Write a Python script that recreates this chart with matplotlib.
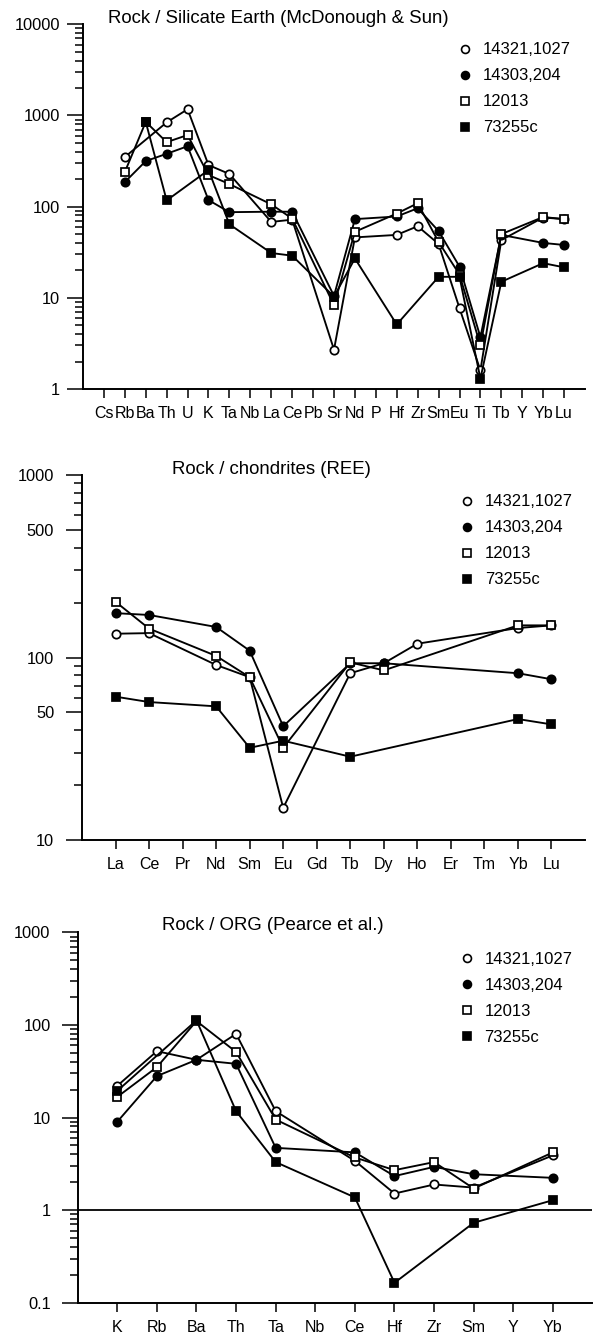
import matplotlib
matplotlib.use("Agg")
import matplotlib.pyplot as plt
from matplotlib.lines import Line2D
from matplotlib.ticker import FixedLocator, NullFormatter

plt.rcParams['font.family'] = ['Liberation Sans', 'DejaVu Sans']

W, H = 593, 1334

samples = ['14321,1027', '14303,204', '12013', '73255c']
# (marker, face colour, marker size) per sample
styles = [('o', 'white', 6.0), ('o', 'black', 6.0), ('s', 'white', 5.4), ('s', 'black', 5.4)]

# Panel 1: rock / silicate earth (None = not analysed)
silicate_elements = ['Cs', 'Rb', 'Ba', 'Th', 'U', 'K', 'Ta', 'Nb', 'La', 'Ce', 'Pb', 'Sr',
                     'Nd', 'P', 'Hf', 'Zr', 'Sm', 'Eu', 'Ti', 'Tb', 'Y', 'Yb', 'Lu']
silicate_14321 = [None, 350, None, 840, 1170, 286, 228, None, 68, 72, None, 2.7,
                  46, None, 49, 61, 39, 7.7, 1.6, 43, None, 76, 73]
silicate_14303 = [None, 186, 316, 380, 460, 118, 87, None, 88, 88, None, 10.5,
                  73, None, 78, 96, 54, 22, 3.7, 49, None, 40, 38]
silicate_12013 = [None, 240, 850, 510, 610, 222, 177, None, 106, 74, None, 8.3,
                  53, None, 84, 109, 41, 18, 3.0, 50, None, 77, 73]
silicate_73255 = [None, None, 850, 117, None, 252, 64, None, 31, 29, None, 10.3,
                  27, None, 5.1, None, 17, 17, 1.3, 15, None, 24, 21.6]

# Panel 2: rock / chondrites (REE)
ree_elements = ['La', 'Ce', 'Pr', 'Nd', 'Sm', 'Eu', 'Gd', 'Tb', 'Dy', 'Ho', 'Er', 'Tm', 'Yb', 'Lu']
ree_14321 = [135, 136, None, 91, 78, 15, None, 82, 93, 119, None, None, 145, 150]
ree_14303 = [175, 171, None, 147, 109, 42, None, 93, 93, None, None, None, 82, 76]
ree_12013 = [202, 144, None, 102, 78, 32, None, 94, 85, None, None, None, 150, 150]
ree_73255 = [61, 57, None, 54, 32, 35, None, 28.6, None, None, None, None, 46, 43]

# Panel 3: rock / ORG (Pearce et al.)
org_elements = ['K', 'Rb', 'Ba', 'Th', 'Ta', 'Nb', 'Ce', 'Hf', 'Zr', 'Sm', 'Y', 'Yb']
org_14321 = [22, 52, 42, 80, 11.7, None, 3.4, 1.51, 1.89, 1.75, None, 3.9]
org_14303 = [9.0, 28, 42, 38, 4.7, None, 4.2, 2.33, 2.93, 2.44, None, 2.23]
org_12013 = [16.7, 35, 110, 51, 9.5, None, 3.7, 2.7, 3.3, 1.71, None, 4.2]
org_73255 = [19.4, None, 112, 11.7, 3.3, None, 1.37, 0.164, None, 0.73, None, 1.28]


def px_rect(left, top, right, bottom):
    return [left / W, 1 - bottom / H, (right - left) / W, (bottom - top) / H]


def decade_minors(lo, hi, majors):
    ticks = []
    d = lo
    while d < hi:
        ticks += [m * d for m in range(2, 10)]
        d *= 10
    return [t for t in ticks if not any(abs(t - m) < 1e-9 for m in majors)]


def draw_panel(ax, elements, series, ylim, majors, major_labels, ypad, legend_xy):
    for vals, (mk, face, ms), name in zip(series, styles, samples):
        xs = [i for i, v in enumerate(vals) if v is not None]
        ys = [v for v in vals if v is not None]
        ax.plot(xs, ys, color='black', lw=1.35, marker=mk, ms=ms,
                mfc=face, mec='black', mew=1.25, label=name, clip_on=False)

    ax.set_yscale('log')
    ax.set_ylim(*ylim)
    ax.set_xlim(-1, len(elements))
    ax.yaxis.set_major_locator(FixedLocator(majors))
    ax.set_yticklabels(major_labels)
    ax.yaxis.set_minor_locator(FixedLocator(decade_minors(ylim[0], ylim[1], majors)))
    ax.yaxis.set_minor_formatter(NullFormatter())
    ax.set_xticks(range(len(elements)))
    ax.set_xticklabels(elements)

    ax.tick_params(axis='y', which='major', length=11.5, width=1.1, pad=ypad, labelsize=11.8)
    ax.tick_params(axis='y', which='minor', length=6, width=1.1)
    ax.tick_params(axis='x', length=6.5, width=1.1, pad=6, labelsize=11.5)
    for side in ['top', 'right']:
        ax.spines[side].set_visible(False)
    for side in ['left', 'bottom']:
        ax.spines[side].set_linewidth(1.4)

    handles = [Line2D([], [], ls='none', marker=mk, ms=ms * 0.95, mfc=face, mec='black', mew=1.2)
               for mk, face, ms in styles]
    fig = ax.figure
    ax.legend(handles, samples, loc='upper left', frameon=False, fontsize=12,
              bbox_to_anchor=(legend_xy[0] / W, 1 - legend_xy[1] / H),
              bbox_transform=fig.transFigure, borderpad=0, borderaxespad=0,
              handlelength=1.0, handletextpad=0.55, labelspacing=0.66)


fig = plt.figure(figsize=(W / 100, H / 100), dpi=100)

ax1 = fig.add_axes(px_rect(83, 24.3, 585, 389))
draw_panel(ax1, silicate_elements,
           [silicate_14321, silicate_14303, silicate_12013, silicate_73255],
           (1, 10000), [1, 10, 100, 1000, 10000], ['1', '10', '100', '1000', '10000'],
           5, (457, 42.5))
fig.text(108 / W, 1 - 18.3 / H, 'Rock / Silicate Earth (McDonough & Sun)',
         fontsize=13.4, ha='left', va='center')

ax2 = fig.add_axes(px_rect(82, 475, 585, 840))
draw_panel(ax2, ree_elements, [ree_14321, ree_14303, ree_12013, ree_73255],
           (10, 1000), [10, 50, 100, 500, 1000], ['10', '50', '100', '500', '1000'],
           8.5, (459, 494.5))
fig.text(172 / W, 1 - 470 / H, 'Rock / chondrites (REE)',
         fontsize=13.4, ha='left', va='center')

ax3 = fig.add_axes(px_rect(77.7, 932.3, 592.5, 1302.7))
draw_panel(ax3, org_elements, [org_14321, org_14303, org_12013, org_73255],
           (0.1, 1000), [0.1, 1, 10, 100, 1000], ['0.1', '1', '10', '100', '1000'],
           8, (458.5, 952))
ax3.axhline(1, color='black', lw=1.3, zorder=1)
fig.text(162 / W, 1 - 925.5 / H, 'Rock / ORG (Pearce et al.)',
         fontsize=13.4, ha='left', va='center')

fig.savefig('out.png', dpi=100)
